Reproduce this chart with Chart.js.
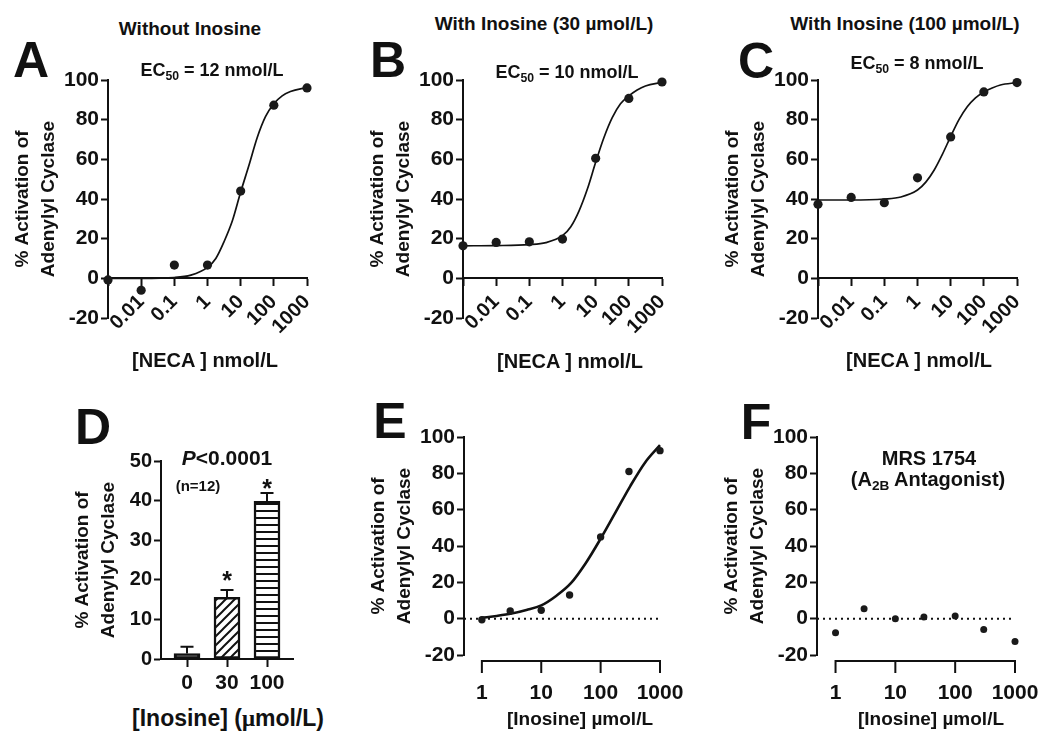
<!DOCTYPE html>
<html>
<head>
<meta charset="utf-8">
<script src="https://cdn.jsdelivr.net/npm/chart.js"></script>
<style>
  body { margin: 0; background: #fff; }
  #fig { position: relative; width: 1050px; height: 744px; overflow: hidden;
         font-family: "Liberation Sans", Arial, sans-serif; color: #111; }
  #fig canvas { position: absolute; }
  .t { position: absolute; transform: translate(-50%, -50%); white-space: nowrap;
       font-weight: bold; line-height: 1; }
  .t sub { font-size: 0.68em; vertical-align: -0.3em; line-height: 0; }
  .big { font-size: 50px; }
</style>
</head>
<body>
<div id="fig">
  <canvas id="cA" width="332" height="320" style="left:8px;top:60px"></canvas>
  <canvas id="cB" width="332" height="320" style="left:363px;top:60px"></canvas>
  <canvas id="cC" width="332" height="320" style="left:718px;top:60px"></canvas>
  <canvas id="cD" width="250" height="260" style="left:61px;top:440px"></canvas>
  <canvas id="cE" width="346" height="290" style="left:364px;top:420px"></canvas>
  <canvas id="cF" width="333" height="290" style="left:717px;top:420px"></canvas>

  <div class="t big" style="left:31px;top:60px">A</div>
  <div class="t big" style="left:388px;top:60px">B</div>
  <div class="t big" style="left:756px;top:61px">C</div>
  <div class="t big" style="left:93px;top:427px">D</div>
  <div class="t big" style="left:390px;top:421px">E</div>
  <div class="t big" style="left:756px;top:422px">F</div>

  <div class="t" style="left:190px;top:28px;font-size:19px">Without Inosine</div>
  <div class="t" style="left:544px;top:23px;font-size:19px">With Inosine (30 µmol/L)</div>
  <div class="t" style="left:905px;top:23px;font-size:19px">With Inosine (100 µmol/L)</div>

  <div class="t" style="left:212px;top:70px;font-size:18px">EC<sub>50</sub> = 12 nmol/L</div>
  <div class="t" style="left:567px;top:72px;font-size:18px">EC<sub>50</sub> = 10 nmol/L</div>
  <div class="t" style="left:917px;top:63px;font-size:18px">EC<sub>50</sub> = 8 nmol/L</div>

  <div class="t" style="left:205px;top:360px;font-size:20px">[NECA ] nmol/L</div>
  <div class="t" style="left:570px;top:361px;font-size:20px">[NECA ] nmol/L</div>
  <div class="t" style="left:919px;top:360px;font-size:20px">[NECA ] nmol/L</div>

  <div class="t" style="left:227px;top:457px;font-size:21px"><i>P</i>&lt;0.0001</div>
  <div class="t" style="left:198px;top:485px;font-size:15px">(n=12)</div>
  <div class="t" style="left:227px;top:580px;font-size:25px">*</div>
  <div class="t" style="left:267px;top:488px;font-size:25px">*</div>
  <div class="t" style="left:228px;top:718px;font-size:23px">[Inosine] (<span style="font-family:'Liberation Serif',serif">μ</span>mol/L)</div>

  <div class="t" style="left:580px;top:718px;font-size:19px">[Inosine] µmol/L</div>
  <div class="t" style="left:931px;top:718px;font-size:19px">[Inosine] µmol/L</div>
  <div class="t" style="left:929px;top:458px;font-size:20px">MRS 1754</div>
  <div class="t" style="left:928px;top:479px;font-size:20px">(A<sub>2B</sub> Antagonist)</div>
</div>

<script>
// A-C: NECA concentration-response (nmol/L)
const necaDoses = [0.001, 0.01, 0.1, 1, 10, 100, 1000];
const necaTicks = [0.001, 0.01, 0.1, 1, 10, 100, 1000];
const necaTickLabels = ['', '0.01', '0.1', '1', '10', '100', '1000'];
const withoutInosine = [-0.8, -6, 6.7, 6.7, 44, 87.3, 96];
const inosine30 = [16.4, 18.1, 18.4, 19.8, 60.5, 90.7, 99];
const inosine100 = [37.4, 40.8, 38.1, 50.7, 71.3, 94, 98.7];

// fitted curves
const fitDoses = [0.001, 0.01, 0.1, 0.316, 1, 1.78, 3.16, 5.62, 10, 17.8, 31.6, 56, 100, 178, 316, 1000];
const fitWithout = [0, 0, 0.4, 1.6, 5.5, 10, 18.5, 29, 43.5, 57, 71, 81.5, 88, 92, 94.2, 96.2];
const fit30 = [16.4, 16.5, 17, 18, 21.5, 26, 34, 45, 58.5, 71, 81, 88, 92, 95, 97, 98.8];
const fit100 = [39.5, 39.5, 40, 41, 44.5, 48.5, 54.5, 62.5, 71.5, 80, 86.5, 91, 94, 96, 97.5, 98.7];

// D: inosine alone, bars + SEM
const inosineGroups = ['0', '30', '100'];
const basalActivation = [1.4, 15.6, 39.8];
const basalSem = [1.7, 1.8, 2.1];

// E-F: inosine concentration-response (µmol/L)
const inosineDoses = [1, 3, 10, 30, 100, 300, 1000];
const inosineTicks = [1, 10, 100, 1000];
const inosineAlone = [-0.6, 4.2, 4.6, 13, 45, 81, 92.5];
const withMrs1754 = [-7.7, 5.5, 0, 0.9, 1.4, -6, -12.5];
const fitInosineDoses = [1, 1.78, 3.16, 5.62, 10, 17.8, 31.6, 56, 100, 178, 316, 562, 1000];
const fitInosine = [0.5, 1.5, 2.8, 4.8, 7.3, 12.5, 19.5, 30.5, 44, 58.5, 73, 86, 95.5];

const yTitle = ['% Activation of', 'Adenylyl Cyclase'];
const ink = '#111';

Chart.defaults.font.family = '"Liberation Sans", Arial, sans-serif';
Chart.defaults.font.weight = 'bold';
Chart.defaults.color = ink;
Chart.defaults.animation = false;
Chart.defaults.plugins.legend.display = false;
Chart.defaults.plugins.tooltip.enabled = false;

const pts = (xs, ys) => xs.map((x, i) => ({x: x, y: ys[i]}));

function activityAxis(min, max, step, titlePad, tickSize) {
  return {
    min: min, max: max,
    ticks: { stepSize: step, font: { size: tickSize }, padding: 2 },
    grid: { drawOnChartArea: false, tickLength: 7, tickWidth: 2, tickColor: ink },
    border: { color: ink, width: 2 },
    title: { display: true, text: yTitle, font: { size: 19, lineHeight: 1.35 },
             padding: { top: titlePad, bottom: 0 } },
    afterFit: s => { s.width = 100; }
  };
}

function necaChart(id, values, fit) {
  new Chart(document.getElementById(id), {
    type: 'line',
    data: {
      datasets: [
        { data: pts(necaDoses, values), showLine: false, pointRadius: 4.6,
          pointBackgroundColor: '#1a1a1a', pointBorderWidth: 0, borderColor: '#1a1a1a', clip: false },
        { data: pts(fitDoses, fit), borderColor: ink, borderWidth: 1.7, pointRadius: 0,
          cubicInterpolationMode: 'monotone' }
      ]
    },
    options: {
      responsive: false,
      layout: { padding: { left: 0, top: 20, right: 33, bottom: 62 } },
      scales: {
        x: {
          type: 'logarithmic', min: 0.001, max: 1000, position: { y: 0 },
          afterBuildTicks: s => { s.ticks = necaTicks.map(v => ({ value: v })); },
          ticks: { callback: (v, i) => necaTickLabels[i], autoSkip: false,
                   minRotation: 45, maxRotation: 45, font: { size: 20 }, padding: 5 },
          grid: { drawOnChartArea: false, tickLength: 7, tickWidth: 2, tickColor: ink },
          border: { color: ink, width: 2 }
        },
        y: activityAxis(-20, 100, 20, 2, 21)
      }
    }
  });
}

necaChart('cA', withoutInosine, fitWithout);
necaChart('cB', inosine30, fit30);
necaChart('cC', inosine100, fit100);

// D: bars with hatch fills
const ctxD = document.getElementById('cD').getContext('2d');
function stripes(diagonal) {
  const n = diagonal ? 9 : 7;
  const tile = document.createElement('canvas');
  tile.width = tile.height = n;
  const g = tile.getContext('2d');
  g.fillStyle = '#fff';
  g.fillRect(0, 0, n, n);
  g.strokeStyle = ink;
  g.lineWidth = 2;
  g.beginPath();
  if (diagonal) {
    g.moveTo(-1, n + 1); g.lineTo(n + 1, -1);
    g.moveTo(-1, 1); g.lineTo(1, -1);
    g.moveTo(n - 1, n + 1); g.lineTo(n + 1, n - 1);
  } else {
    g.moveTo(0, 1); g.lineTo(n, 1);
  }
  g.stroke();
  return ctxD.createPattern(tile, 'repeat');
}

const errorBars = {
  id: 'errorBars',
  afterDatasetsDraw(chart) {
    const { ctx, scales: { x, y } } = chart;
    ctx.save();
    ctx.strokeStyle = ink;
    ctx.lineWidth = 2;
    basalActivation.forEach((v, i) => {
      const px = x.getPixelForValue(i);
      const top = y.getPixelForValue(v + basalSem[i]);
      ctx.beginPath();
      ctx.moveTo(px, y.getPixelForValue(v));
      ctx.lineTo(px, top);
      ctx.moveTo(px - 6.5, top);
      ctx.lineTo(px + 6.5, top);
      ctx.stroke();
    });
    ctx.restore();
  }
};

new Chart(ctxD, {
  type: 'bar',
  data: {
    datasets: [{
      data: inosineGroups.map((g, i) => ({ x: i, y: basalActivation[i] })),
      backgroundColor: ['#1a1a1a', stripes(true), stripes(false)],
      borderColor: ink, borderWidth: 2.5, borderSkipped: false, barThickness: 26
    }]
  },
  options: {
    responsive: false,
    layout: { padding: { left: 0, top: 21, right: 18, bottom: 0 } },
    scales: {
      x: {
        type: 'linear', min: -0.65, max: 2.65, offset: false,
        afterBuildTicks: s => { s.ticks = inosineGroups.map((g, i) => ({ value: i })); },
        ticks: { callback: (v, i) => inosineGroups[i], autoSkip: false, maxRotation: 0,
                 font: { size: 21 }, padding: 4 },
        grid: { offset: false, drawOnChartArea: false, tickLength: 8, tickWidth: 2, tickColor: ink },
        border: { color: ink, width: 2 },
        afterFit: s => { s.height = 41; }
      },
      y: activityAxis(0, 50, 10, 9, 20)
    }
  },
  plugins: [errorBars]
});

// E-F: x axis drawn detached from the y axis, as in the original
const detachedAxis = {
  id: 'detachedAxis',
  afterDraw(chart) {
    const { ctx, chartArea, scales: { x } } = chart;
    const y = chartArea.bottom + 6;
    ctx.save();
    ctx.strokeStyle = ink;
    ctx.lineWidth = 2;
    ctx.beginPath();
    ctx.moveTo(x.getPixelForValue(inosineTicks[0]) - 1, y);
    ctx.lineTo(x.getPixelForValue(inosineTicks[inosineTicks.length - 1]) + 1, y);
    inosineTicks.forEach(v => {
      const px = x.getPixelForValue(v);
      ctx.moveTo(px, y);
      ctx.lineTo(px, y + 12);
    });
    ctx.stroke();
    ctx.restore();
  }
};

function inosineChart(id, values, fit, xMin, padRight, radius) {
  const datasets = [
    { data: pts(inosineDoses, values), showLine: false, pointRadius: radius,
      pointBackgroundColor: '#1a1a1a', pointBorderWidth: 0, borderColor: '#1a1a1a', clip: false },
    { data: [{ x: xMin, y: 0 }, { x: 1000, y: 0 }], borderColor: ink, borderWidth: 2,
      borderDash: [2, 4], pointRadius: 0 }
  ];
  if (fit) {
    datasets.splice(1, 0, { data: pts(fitInosineDoses, fit), borderColor: ink, borderWidth: 2.6,
      pointRadius: 0, cubicInterpolationMode: 'monotone', clip: false });
  }
  new Chart(document.getElementById(id), {
    type: 'line',
    data: { datasets: datasets },
    options: {
      responsive: false,
      layout: { padding: { left: 0, top: 17, right: padRight, bottom: 0 } },
      scales: {
        x: {
          type: 'logarithmic', min: xMin, max: 1000,
          afterBuildTicks: s => { s.ticks = inosineTicks.map(v => ({ value: v })); },
          ticks: { callback: v => String(v), autoSkip: false, minRotation: 0, maxRotation: 0,
                   font: { size: 21 }, padding: 1 },
          grid: { drawOnChartArea: false, tickLength: 25, tickColor: 'rgba(0,0,0,0)' },
          border: { display: false },
          afterFit: s => { s.height = 55; }
        },
        y: activityAxis(-20, 100, 20, 2, 21)
      }
    },
    plugins: [detachedAxis]
  });
}

inosineChart('cE', inosineAlone, fitInosine, 0.5, 50, 3.7);
inosineChart('cF', withMrs1754, null, 0.49, 35, 3.5);
</script>
</body>
</html>
